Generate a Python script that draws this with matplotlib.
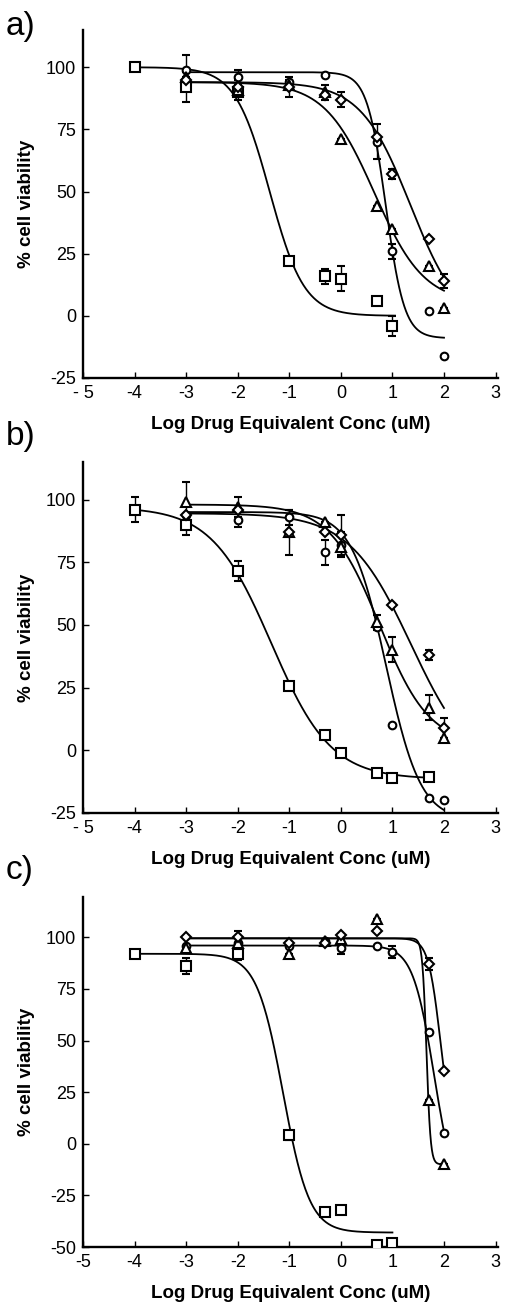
import numpy as np
import matplotlib.pyplot as plt

plt.rcParams['font.family'] = ['Liberation Sans', 'DejaVu Sans']

# ---------------- panel a ----------------
a_sq_x = [-4, -3, -2, -1, -0.3, 0, 0.7, 1]
a_sq_y = [100, 92, 90, 22, 16, 15, 6, -4]
a_sq_e = [0, 6, 3, 0, 3, 5, 0, 4]
a_ci_x = [-3, -2, -1, -0.3, 0.7, 1, 1.7, 2]
a_ci_y = [99, 96, 94, 97, 70, 26, 2, -16]
a_ci_e = [6, 3, 0, 0, 7, 3, 0, 0]
a_tr_x = [-3, -2, -1, -0.3, 0, 0.7, 1, 1.7, 2]
a_tr_y = [96, 91, 93, 90, 71, 44, 35, 20, 3]
a_tr_e = [0, 0, 2, 3, 0, 0, 0, 0, 0]
a_di_x = [-3, -2, -1, -0.3, 0, 0.7, 1, 1.7, 2]
a_di_y = [95, 92, 92, 89, 87, 72, 57, 31, 14]
a_di_e = [0, 3, 4, 0, 3, 0, 2, 0, 3]

# ---------------- panel b ----------------
b_sq_x = [-4, -3, -2, -1, -0.3, 0, 0.7, 1, 1.7]
b_sq_y = [96, 90, 71.5, 25.5, 6, -1, -9, -11, -10.5]
b_sq_e = [5, 4, 4, 0, 0, 0, 0, 0, 0]
b_ci_x = [-3, -2, -1, -0.3, 0, 0.7, 1, 1.7, 2]
b_ci_y = [94, 92, 93, 79, 82, 49, 10, -19, -20]
b_ci_e = [0, 3, 3, 5, 5, 0, 0, 0, 0]
b_tr_x = [-3, -2, -1, -0.3, 0, 0.7, 1, 1.7, 2]
b_tr_y = [99, 97, 87, 91, 81, 51, 40, 17, 5]
b_tr_e = [8, 4, 9, 0, 0, 3, 5, 5, 0]
b_di_x = [-3, -2, -1, -0.3, 0, 1, 1.7, 2]
b_di_y = [94, 96, 87, 87, 86, 58, 38, 9]
b_di_e = [0, 0, 0, 0, 8, 0, 2, 4]

# ---------------- panel c ----------------
c_sq_x = [-4, -3, -2, -1, -0.3, 0, 0.7, 1]
c_sq_y = [92, 86, 92, 4, -33, -32, -49, -48]
c_sq_e = [0, 4, 3, 2, 0, 0, 0, 0]
c_ci_x = [-3, -2, -1, -0.3, 0, 0.7, 1, 1.7, 2]
c_ci_y = [96, 97, 96, 98, 95, 96, 93, 54, 5]
c_ci_e = [0, 0, 0, 0, 3, 0, 3, 0, 0]
c_tr_x = [-3, -2, -1, -0.3, 0, 0.7, 1.7, 2]
c_tr_y = [95, 97, 92, 98, 99, 109, 21, -10]
c_tr_e = [0, 0, 0, 0, 0, 0, 0, 0]
c_di_x = [-3, -2, -1, -0.3, 0, 0.7, 1.7, 2]
c_di_y = [100, 100, 97, 97, 101, 103, 87, 35]
c_di_e = [0, 3, 0, 0, 0, 0, 3, 0]

# fitted dose-response curves: top, bottom, logEC50, hill, x start, x end
a_fits = [(100, 0, -1.38, 1.3, -4, 1.05), (98, -9, 0.87, 2.4, -3, 2),
          (94, 5, 0.65, 0.9, -3, 2), (94, -5, 1.35, 0.9, -3, 2)]
b_fits = [(97, -11.5, -1.35, 0.75, -4, 1.7), (95, -28, 0.88, 1.3, -3, 2),
          (98, 2, 0.75, 0.9, -3, 2), (94.5, -10, 1.36, 0.72, -3, 2)]
c_fits = [(92, -43, -1.12, 1.7, -4, 1), (96, -30, 1.81, 2.1, -3, 2),
          (99.5, -10, 1.66, 11, -3, 2), (99.5, 0, 1.93, 3.7, -3, 2)]

panels = [
    ('a)', [(a_sq_x, a_sq_y, a_sq_e), (a_ci_x, a_ci_y, a_ci_e),
            (a_tr_x, a_tr_y, a_tr_e), (a_di_x, a_di_y, a_di_e)], a_fits,
     (-25, 115), [100, 75, 50, 25, 0, -25], '- 5'),
    ('b)', [(b_sq_x, b_sq_y, b_sq_e), (b_ci_x, b_ci_y, b_ci_e),
            (b_tr_x, b_tr_y, b_tr_e), (b_di_x, b_di_y, b_di_e)], b_fits,
     (-25, 115), [100, 75, 50, 25, 0, -25], '- 5'),
    ('c)', [(c_sq_x, c_sq_y, c_sq_e), (c_ci_x, c_ci_y, c_ci_e),
            (c_tr_x, c_tr_y, c_tr_e), (c_di_x, c_di_y, c_di_e)], c_fits,
     (-50, 119.5), [100, 75, 50, 25, 0, -25, -50], '-5'),
]

markers = [('s', 7), ('o', 5.5), ('^', 7), ('D', 5)]

def four_pl(x, top, bottom, ec50, hill):
    return bottom + (top - bottom) / (1 + 10 ** (hill * (x - ec50)))

fig = plt.figure(figsize=(5.05, 13.07), dpi=100)
boxes = [(0.1644, 0.7108, 0.822, 0.2663),
         (0.1644, 0.3780, 0.822, 0.2686),
         (0.1644, 0.0459, 0.822, 0.2678)]
label_y = [0.980, 0.666, 0.334]

for (label, series, fits, ylim, yticks, first), box, ly in zip(panels, boxes, label_y):
    ax = fig.add_axes(box)
    for top, bottom, ec50, hill, x0, x1 in fits:
        xs = np.linspace(x0, x1, 300)
        ax.plot(xs, four_pl(xs, top, bottom, ec50, hill), color='black', lw=1.3, zorder=2)
    for (x, y, e), (m, ms) in zip(series, markers):
        ax.errorbar(x, y, yerr=e, fmt=m, ms=ms, mfc='white', mec='black', mew=1.5,
                    ecolor='black', elinewidth=1, capsize=3, capthick=1, zorder=3)
    ax.set_xlim(-5, 3.05)
    ax.set_ylim(*ylim)
    ax.set_xticks(range(-5, 4))
    ax.set_xticklabels([first, '-4', '-3', '-2', '-1', '0', '1', '2', '3'])
    ax.set_yticks(yticks)
    ax.set_yticklabels([str(v) for v in yticks])
    for s in ['top', 'right']:
        ax.spines[s].set_visible(False)
    for s in ['left', 'bottom']:
        ax.spines[s].set_linewidth(1.7)
    ax.tick_params(direction='in', length=4, width=1, labelsize=13, pad=5)
    ax.set_xlabel('Log Drug Equivalent Conc (uM)', fontsize=13.5, fontweight='bold', labelpad=10)
    ax.set_ylabel('% cell viability', fontsize=13.5, fontweight='bold', labelpad=8)
    fig.text(0.012, ly, label, fontsize=24, ha='left', va='center')

fig.savefig('out.png', dpi=100)
